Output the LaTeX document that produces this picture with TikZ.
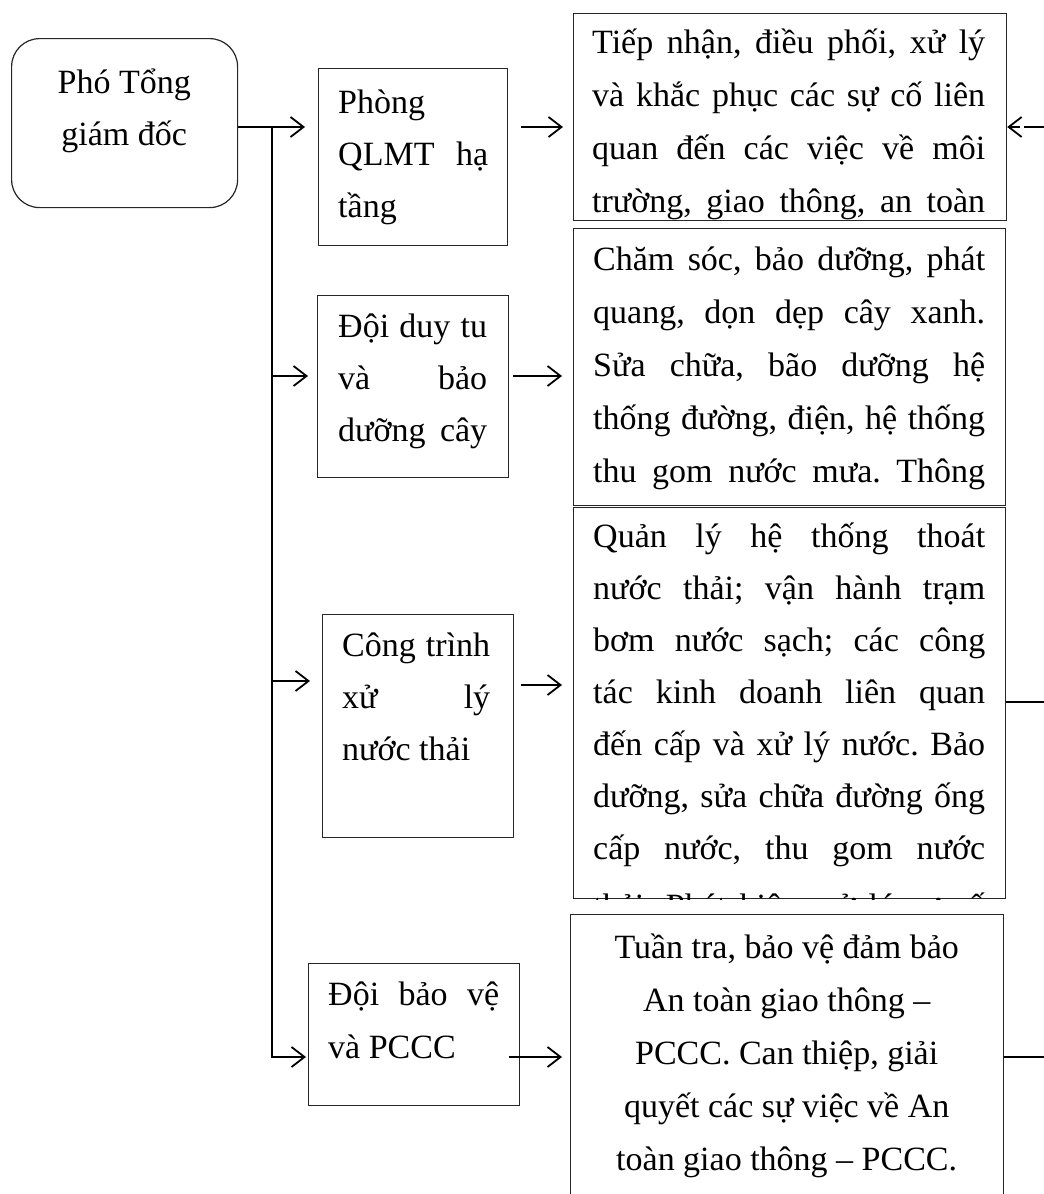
\documentclass[tikz,border=0pt]{standalone}
\usepackage{fontspec}
\setmainfont{Liberation Serif}
\usetikzlibrary{arrows.meta}
\frenchspacing
\newcommand\Jl[1]{\par\hbox to \hsize{#1}}
\newcommand\Ll[1]{\par\hbox to \hsize{#1\hfil}}
\newcommand\Cl[1]{\par\hbox to \hsize{\hfil#1\hfil}}
\newcommand\tb[3]{\vtop{\hsize=#1\relax\baselineskip=#2\relax #3}}
\begin{document}
\begin{tikzpicture}[x=1pt,y=-1pt,
  box/.style={draw=black!85, line width=1.2pt, rectangle, inner sep=0pt, anchor=north west},
  txt/.style={inner sep=0pt, anchor=base west, font=\fontsize{34pt}{52.5pt}\selectfont},
  arr/.style={line width=1.8pt, -{Straight Barb[length=13pt,width=20pt,line width=1.8pt]}},
  ln/.style={line width=1.8pt}]
\useasboundingbox (0,0) rectangle (1044,1194);
\clip (0,0) rectangle (1044,1194);

% boxes
\node[box, rounded corners=28pt, minimum width=226pt, minimum height=169pt] (pt) at (11,38) {};
\node[box, minimum width=189pt, minimum height=177pt] (p1) at (318,68) {};
\node[box, minimum width=191pt, minimum height=182pt] (p2) at (317,295) {};
\node[box, minimum width=191pt, minimum height=223pt] (p3) at (322,614) {};
\node[box, minimum width=211pt, minimum height=142pt] (p4) at (308,963) {};
\node[box, minimum width=433pt, minimum height=207pt] (b1) at (573,13) {};
\node[box, minimum width=432pt, minimum height=277pt] (b2) at (573,228) {};
\node[box, minimum width=432pt, minimum height=391pt] (b3) at (573,507) {};
\node[box, minimum width=433pt, minimum height=336pt] (b4) at (570,914) {};

% texts of left boxes
\node[txt] (tpt) at (44,93) {\tb{160pt}{52pt}{\Cl{Phó Tổng}\Cl{giám đốc}}};
\node[txt] (tp1) at (338,113) {\tb{150pt}{52pt}{\Ll{Phòng}\Jl{QLMT hạ}\Ll{tầng}}};
\node[txt] (tp2) at (338,337) {\tb{149pt}{52pt}{\Jl{Đội duy tu}\Jl{và bảo}\Jl{dưỡng cây}}};
\node[txt] (tp3) at (342,656) {\tb{148pt}{52pt}{\Jl{Công trình}\Jl{xử lý}\Ll{nước thải}}};
\node[txt] (tp4) at (328,1005) {\tb{171pt}{53pt}{\Jl{Đội bảo vệ}\Ll{và PCCC}}};

% texts of right boxes (clipped by their boxes)
\begin{scope}
\clip (b1.north west) rectangle (b1.south east);
\node[txt] (tb1) at (592,53) {\tb{393pt}{53pt}{\Jl{Tiếp nhận, điều phối, xử lý}\Jl{và khắc phục các sự cố liên}\Jl{quan đến các việc về môi}\Jl{trường, giao thông, an toàn}}};
\end{scope}
\begin{scope}
\clip (b2.north west) rectangle (b2.south east);
\node[txt] (tb2) at (593,270) {\tb{392pt}{53pt}{\Jl{Chăm sóc, bảo dưỡng, phát}\Jl{quang, dọn dẹp cây xanh.}\Jl{Sửa chữa, bão dưỡng hệ}\Jl{thống đường, điện, hệ thống}\Jl{thu gom nước mưa. Thông}}};
\end{scope}
\begin{scope}
\clip (b3.north west) rectangle (b3.south east);
\node[txt] (tb3) at (593,547) {\tb{392pt}{52pt}{\Jl{Quản lý hệ thống thoát}\Jl{nước thải; vận hành trạm}\Jl{bơm nước sạch; các công}\Jl{tác kinh doanh liên quan}\Jl{đến cấp và xử lý nước. Bảo}\Jl{dưỡng, sửa chữa đường ống}\Jl{cấp nước, thu gom nước}\par\vskip6pt\Jl{thải. Phát hiện, xử lý sự cố}}};
\end{scope}
\begin{scope}
\clip (b4.north west) rectangle (b4.south east);
\node[txt] (tb4) at (589,958) {\tb{395pt}{53pt}{\Cl{Tuần tra, bảo vệ đảm bảo}\Cl{An toàn giao thông –}\Cl{PCCC. Can thiệp, giải}\Cl{quyết các sự việc về An}\Cl{toàn giao thông – PCCC.}}};
\end{scope}

% coordinates
\coordinate (y1) at (0,127);
\coordinate (y2) at (0,376);
\coordinate (y3i) at (0,681);
\coordinate (y3o) at (0,685);
\coordinate (y4) at (0,1057);
\coordinate (t) at (272,127);
\coordinate (e1) at (1044,127);
\coordinate (e3) at (1044,702);
\coordinate (e4) at (1044,1057);

% connectors from the head
\draw[arr, shorten >=13pt] (pt.east |- y1) -- (p1.west |- y1);
\draw[arr, shorten >=2pt] (t) -- (t |- y4) -- (p4.west |- y4);
\draw[arr, shorten >=9pt] (t |- y2) -- (p2.west |- y2);
\draw[arr, shorten >=12pt] (t |- y3i) -- (p3.west |- y3i);

% connectors to the task boxes
\draw[arr, shorten <=13pt, shorten >=10pt] (p1.east |- y1) -- (b1.west |- y1);
\draw[arr, shorten <=4pt, shorten >=11pt] (p2.east |- y2) -- (b2.west |- y2);
\draw[arr, shorten <=7pt, shorten >=11pt] (p3.east |- y3o) -- (b3.west |- y3o);
\draw[arr, shorten <=-11pt, shorten >=8pt] (p4.east |- y4) -- (b4.west |- y4);

% stubs on the right edge
\draw[ln] (e1) -- ++(-20,0);
\draw[arr] ([xshift=-24pt]e1) -- (b1.east |- e1);
\draw[ln] (b3.east |- e3) -- (e3);
\draw[ln] (b4.east |- e4) -- (e4);
\end{tikzpicture}
\end{document}
